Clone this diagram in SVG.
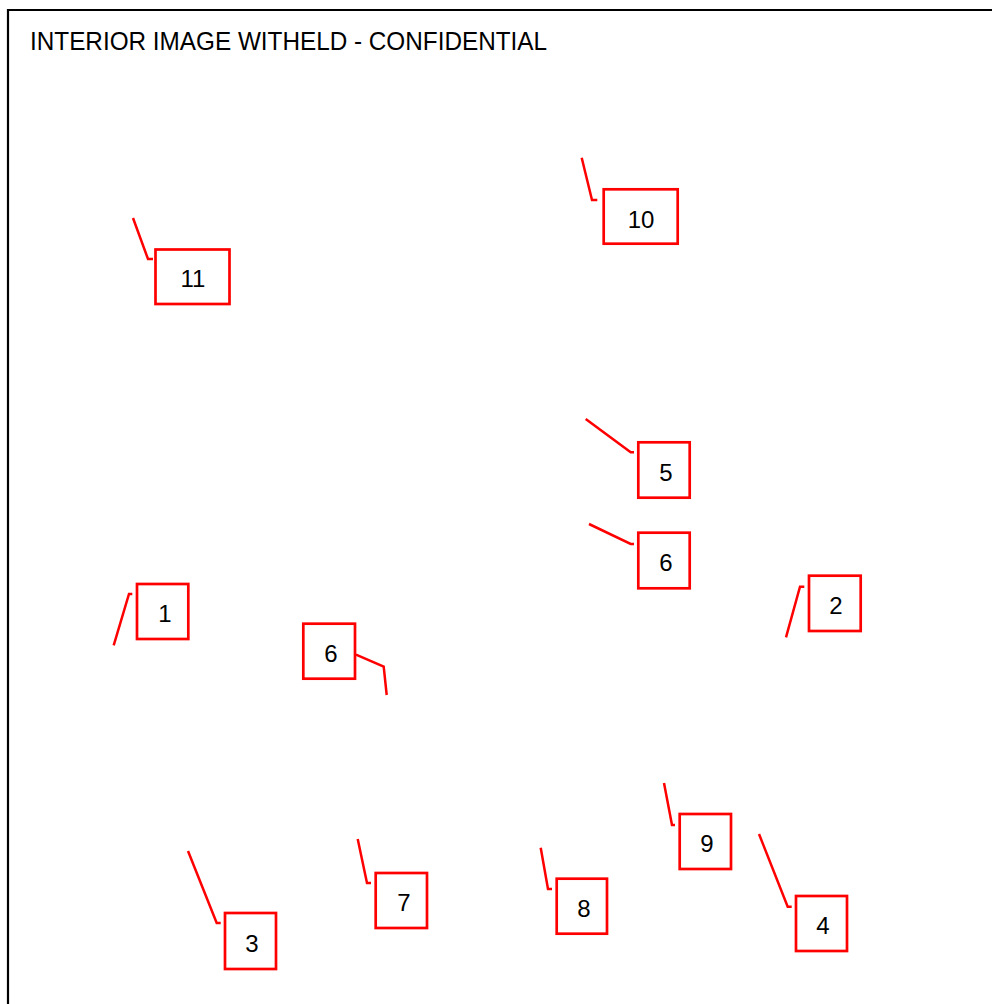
<svg xmlns="http://www.w3.org/2000/svg" width="992" height="1004" viewBox="0 0 992 1004">
<style>
.box{fill:#fff;stroke:#ff0000;stroke-width:2.7}
.lead{fill:none;stroke:#ff0000;stroke-width:2.5}
.num{font-family:"Liberation Sans",Arial,sans-serif;font-size:24px;fill:#000;text-anchor:middle}
.title{font-family:"Liberation Sans",Arial,sans-serif;font-size:26px;fill:#000}
</style>
<rect x="0" y="0" width="992" height="1004" fill="#fff"/>
<path d="M8 1004 V10 H992" fill="none" stroke="#000" stroke-width="2.2"/>
<text class="title" x="30" y="50" textLength="517" lengthAdjust="spacingAndGlyphs">INTERIOR IMAGE WITHELD - CONFIDENTIAL</text>
<g id="connectors">
<polyline class="lead" points="133,218 148,259 153,259"/>
<polyline class="lead" points="581.7,157.7 592,200 597.3,200"/>
<polyline class="lead" points="585.7,419 630.7,452.3 634,452.3"/>
<polyline class="lead" points="589,524 630.7,544 634,544"/>
<polyline class="lead" points="786,637.3 800,586.7 804.3,586.7"/>
<polyline class="lead" points="113.7,645.3 129,594 132.3,594"/>
<polyline class="lead" points="356,654.7 383.7,666.7 386.7,695"/>
<polyline class="lead" points="188,851 216.7,923 220.7,923"/>
<polyline class="lead" points="357.7,839 367,883 371,883"/>
<polyline class="lead" points="540.7,847.7 548,889 552,889"/>
<polyline class="lead" points="664,783 672,825 675,825"/>
<polyline class="lead" points="759,834 787.7,906.7 791.7,906.7"/>
</g>
<g id="n11"><rect class="box" x="155.5" y="249.5" width="74" height="54.5"/><text class="num" x="193" y="287">11</text></g>
<g id="n10"><rect class="box" x="603.7" y="189.3" width="74" height="54.4"/><text class="num" x="641" y="228">10</text></g>
<g id="n5"><rect class="box" x="638.3" y="442.3" width="51.4" height="55.4"/><text class="num" x="666" y="481">5</text></g>
<g id="n6a"><rect class="box" x="638.3" y="532.7" width="51.4" height="55.6"/><text class="num" x="666" y="571">6</text></g>
<g id="n2"><rect class="box" x="809" y="575.7" width="51.7" height="55.3"/><text class="num" x="836" y="614">2</text></g>
<g id="n1"><rect class="box" x="137" y="584" width="51.3" height="55"/><text class="num" x="165" y="622">1</text></g>
<g id="n6b"><rect class="box" x="303.3" y="623.7" width="51.7" height="55"/><text class="num" x="331" y="662">6</text></g>
<g id="n3"><rect class="box" x="225" y="913" width="51" height="56"/><text class="num" x="252" y="952">3</text></g>
<g id="n7"><rect class="box" x="375.7" y="873" width="51.3" height="55"/><text class="num" x="404" y="911">7</text></g>
<g id="n8"><rect class="box" x="556.7" y="878.7" width="50.3" height="55"/><text class="num" x="584" y="917">8</text></g>
<g id="n9"><rect class="box" x="679.7" y="814" width="51.3" height="55"/><text class="num" x="707" y="852">9</text></g>
<g id="n4"><rect class="box" x="796" y="896" width="51" height="55"/><text class="num" x="823" y="934">4</text></g>
</svg>
